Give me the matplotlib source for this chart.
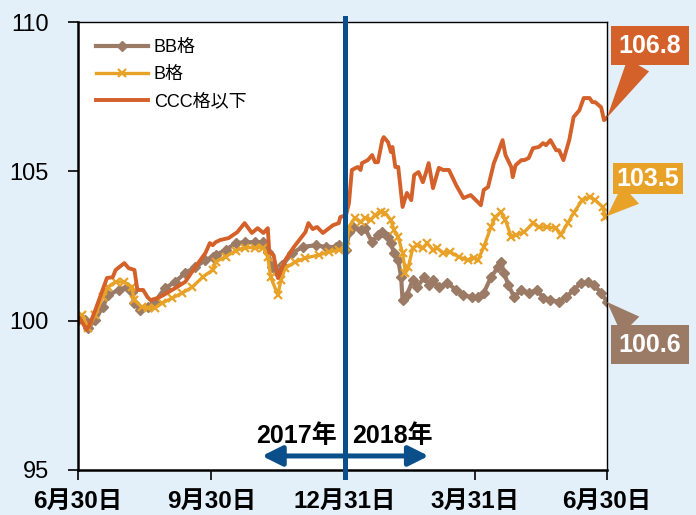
import pandas as pd
import matplotlib.pyplot as plt

plt.rcParams['font.family'] = ['Liberation Sans', 'Noto Sans CJK JP']

START = pd.Timestamp('2017-06-30')

# day offsets from 2017-06-30, index values (2017/6/30 = 100)
bb_days = [0, 5, 7, 12, 17, 21, 28, 34, 37, 39, 43, 48, 53, 60, 67, 74, 81, 88, 93, 95,
           102, 109, 115, 122, 128, 131, 134, 138, 141, 148, 155, 164, 171, 178, 180, 185,
           187, 190, 195, 198, 203, 207, 210, 214, 216, 218, 221, 223, 224, 227, 231, 234,
           239, 242, 245, 249, 255, 261, 266, 272, 276, 280, 285, 290, 292, 294, 297, 301,
           306, 311, 317, 321, 326, 332, 337, 342, 347, 352, 356, 361, 365]
bb_vals = [100.02, 100.02, 99.76, 100.02, 100.46, 100.86, 101.03, 101.13, 100.96, 100.59,
           100.36, 100.46, 100.63, 101.09, 101.30, 101.60, 101.80, 102.03, 102.13, 102.20,
           102.37, 102.60, 102.63, 102.63, 102.63, 102.30, 101.80, 101.60, 101.86, 102.27,
           102.47, 102.53, 102.47, 102.47, 102.53, 102.37, 102.97, 103.14, 103.04, 103.10,
           102.63, 102.87, 102.97, 102.80, 102.60, 102.27, 102.03, 101.46, 100.69, 100.86,
           101.36, 101.13, 101.46, 101.20, 101.36, 101.13, 101.26, 101.03, 100.86, 100.79,
           100.79, 100.93, 101.46, 101.80, 101.97, 101.60, 101.20, 100.79, 101.03, 100.93,
           101.03, 100.76, 100.69, 100.63, 100.79, 101.03, 101.26, 101.30, 101.20, 100.93,
           100.63]

b_days = [0, 3, 7, 12, 17, 21, 26, 32, 37, 39, 44, 48, 53, 58, 65, 72, 79, 86, 93, 95,
          102, 109, 115, 122, 128, 131, 133, 138, 140, 143, 150, 157, 166, 173, 180, 185,
          187, 191, 195, 198, 202, 205, 209, 212, 216, 218, 221, 224, 226, 228, 231, 234,
          238, 241, 245, 248, 252, 257, 263, 269, 273, 276, 280, 285, 288, 292, 295, 299,
          302, 308, 314, 318, 324, 330, 333, 338, 342, 348, 353, 357, 362, 364, 365]
b_vals = [100.09, 100.19, 99.76, 100.19, 100.79, 101.13, 101.30, 101.30, 101.13, 100.69,
          100.46, 100.43, 100.43, 100.59, 100.76, 100.93, 101.13, 101.46, 101.70, 101.97,
          102.15, 102.35, 102.45, 102.45, 102.45, 102.13, 101.46, 100.86, 101.36, 101.76,
          101.97, 102.10, 102.20, 102.30, 102.37, 102.47, 103.14, 103.44, 103.30, 103.44,
          103.37, 103.54, 103.64, 103.61, 103.37, 103.04, 102.80, 102.27, 101.60, 101.80,
          102.43, 102.53, 102.43, 102.60, 102.37, 102.43, 102.27, 102.30, 102.13, 102.03,
          102.10, 102.03, 102.47, 103.14, 103.47, 103.64, 103.37, 102.80, 102.87, 102.97,
          103.27, 103.14, 103.14, 103.10, 102.87, 103.27, 103.61, 104.04, 104.14, 104.04,
          103.81, 103.47, 103.50]

ccc_days = [0, 1, 6, 8, 12, 17, 20, 24, 26, 32, 35, 39, 41, 45, 48, 50, 55, 59, 67, 74,
            81, 88, 91, 93, 95, 98, 104, 110, 115, 120, 124, 128, 131, 132, 135, 138, 143,
            149, 157, 159, 162, 165, 169, 176, 180, 181, 185, 187, 189, 193, 195, 196, 200,
            203, 205, 207, 210, 211, 214, 216, 217, 219, 221, 224, 226, 227, 230, 232, 235,
            238, 240, 242, 245, 249, 252, 256, 261, 266, 271, 276, 278, 280, 283, 287, 290,
            293, 295, 299, 300, 302, 306, 308, 311, 314, 318, 321, 323, 326, 330, 332, 335,
            339, 342, 346, 349, 353, 355, 357, 361, 363, 365]
ccc_vals = [100.00, 100.10, 99.70, 99.86, 100.36, 101.03, 101.43, 101.46, 101.70, 101.93,
            101.76, 101.70, 101.03, 101.03, 100.79, 100.69, 100.76, 100.86, 101.09, 101.30,
            101.80, 102.27, 102.60, 102.53, 102.63, 102.70, 102.77, 102.97, 103.27, 102.94,
            103.10, 102.94, 103.10, 102.30, 102.20, 101.43, 102.03, 102.47, 102.97, 103.27,
            103.07, 103.14, 102.94, 103.20, 103.27, 103.47, 103.54, 103.94, 105.05, 105.15,
            105.05, 105.28, 105.38, 105.55, 105.31, 105.31, 106.05, 106.15, 105.98, 105.65,
            105.82, 105.15, 105.15, 103.81, 104.14, 104.28, 104.04, 104.88, 104.98, 104.64,
            104.94, 105.28, 104.44, 105.12, 105.05, 105.05, 104.54, 104.11, 104.21, 103.97,
            103.87, 104.38, 104.48, 105.28, 105.65, 106.05, 105.55, 105.15, 104.81, 105.21,
            105.38, 105.38, 105.45, 105.78, 105.82, 105.95, 105.88, 106.05, 105.71, 105.71,
            105.38, 106.05, 106.82, 107.05, 107.46, 107.46, 107.32, 107.32, 107.15, 106.72,
            106.80]

names = ['BB格', 'B格', 'CCC格以下']
colors = ['#9c7b66', '#e9a228', '#d4602a']
end_labels = ['100.6', '103.5', '106.8']
tick_dates = ['2017-06-30', '2017-09-30', '2017-12-31', '2018-03-31', '2018-06-30']
tick_labels = ['6月30日', '9月30日', '12月31日', '3月31日', '6月30日']
year_split = '2017-12-31'


def to_dates(days):
    return START + pd.to_timedelta(days, unit='D')


fig = plt.figure(figsize=(6.96, 5.15), dpi=100, facecolor='#e4f0f9')
ax = fig.add_axes([0.112, 0.0874, 0.76, 0.8695])
ax.set_facecolor('white')

ax.plot(to_dates(bb_days), bb_vals, color=colors[0], lw=3, marker='D', ms=5,
        label=names[0])
ax.plot(to_dates(b_days), b_vals, color=colors[1], lw=2.4, marker='x', ms=6, mew=1.6,
        label=names[1])
ax.plot(to_dates(ccc_days), ccc_vals, color=colors[2], lw=2.8, label=names[2])

x0 = pd.Timestamp(tick_dates[0])
x1 = pd.Timestamp(tick_dates[-1])
ax.set_xlim(x0, x1)
ax.set_ylim(95, 110)
ax.set_yticks([95, 100, 105, 110])
ax.set_xticks(pd.to_datetime(tick_dates))
ax.set_xticklabels(tick_labels, fontsize=17.5, fontweight='bold')
ax.tick_params(axis='y', labelsize=17, length=7, width=1.2, pad=14)
ax.tick_params(axis='x', length=7, width=1.2, pad=7)
for s in ax.spines.values():
    s.set_color('black')
    s.set_linewidth(1.0)
ax.spines['left'].set_linewidth(1.8)
ax.spines['bottom'].set_linewidth(1.8)

# year divider
split = pd.Timestamp(year_split)
ax.plot([split, split], [94.75, 110.15], color='#0b4f8a', lw=3.6, clip_on=False, zorder=5)
for days in (-57, 58):
    ax.annotate('', xy=(split + pd.Timedelta(days=days), 95.47), xytext=(split, 95.47),
                arrowprops=dict(arrowstyle='-|>,head_width=0.6,head_length=1.2',
                                color='#0b4f8a', lw=3.6, shrinkA=0, shrinkB=0))
ax.text(split - pd.Timedelta(days=5), 96.15, '2017年', ha='right', va='center',
        fontsize=18, fontweight='bold')
ax.text(split + pd.Timedelta(days=5), 96.15, '2018年', ha='left', va='center',
        fontsize=18, fontweight='bold')

# end-value callouts
last_vals = [bb_vals[-1], b_vals[-1], ccc_vals[-1]]
offsets = [(31, -31), (29.5, 27), (31, 52)]
pads = [0.3, 0.15, 0.3]
for lab, col, v, off, pad in zip(end_labels, colors, last_vals, offsets, pads):
    ax.annotate(lab, xy=(x1, v), xytext=off, textcoords='offset points',
                ha='center', va='center', fontsize=18, fontweight='bold', color='white',
                bbox=dict(boxstyle=f'square,pad={pad}', fc=col, ec='none'),
                arrowprops=dict(arrowstyle='wedge,tail_width=1.0', fc=col, ec='none',
                                shrinkA=0, shrinkB=0),
                annotation_clip=False, zorder=6)

leg = ax.legend(loc='upper left', bbox_to_anchor=(0.01, 0.99), frameon=False,
                fontsize=13, handlelength=2.9, handletextpad=0.3, labelspacing=0.55,
                borderaxespad=0.3)

fig.savefig('out.png', dpi=100, facecolor=fig.get_facecolor())
